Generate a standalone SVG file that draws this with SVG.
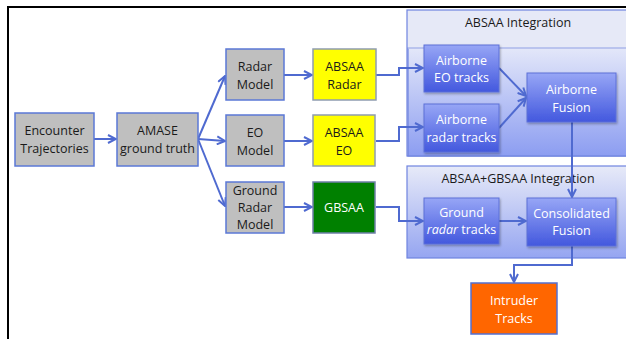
<svg xmlns="http://www.w3.org/2000/svg" width="626" height="339" viewBox="0 0 626 339">
  <style>
    text { font-family: "Open Sans", "Noto Sans", sans-serif; font-size: 12.5px; text-anchor: middle; }
    .dark { fill: #1a1a1a; }
    .light { fill: #ffffff; }
    .gray { fill: #bfbfbf; stroke: #5b78d6; stroke-width: 1.5; }
    .yellow { fill: #ffff00; stroke: #8f9cb0; stroke-width: 1.5; }
    .green { fill: #008000; stroke: #6f7fa8; stroke-width: 1.5; }
    .orange { fill: #ff6600; stroke: #5470d0; stroke-width: 1.5; }
    .blue { fill: url(#boxGrad); stroke: #5c70d8; stroke-width: 1; filter: url(#shadow); }
    .panel { stroke: #6f84e0; stroke-width: 1.2; }
    .conn { fill: none; stroke: #4f6ad0; stroke-width: 2; marker-end: url(#arrow); }
    .conn-plain { fill: none; stroke: #4f6ad0; stroke-width: 2; }
  </style>
  <defs>
    <linearGradient id="boxGrad" x1="0" y1="0" x2="0" y2="1">
      <stop offset="0" stop-color="#97a6f6"/>
      <stop offset="1" stop-color="#4358de"/>
    </linearGradient>
    <linearGradient id="panelGrad" x1="0" y1="0" x2="0" y2="1">
      <stop offset="0" stop-color="#e3e7f9"/>
      <stop offset="1" stop-color="#8c9df1"/>
    </linearGradient>
    <linearGradient id="panelGrad2" x1="0" y1="0" x2="0" y2="1">
      <stop offset="0" stop-color="#e7eaf8"/>
      <stop offset="1" stop-color="#95a5f1"/>
    </linearGradient>
    <filter id="shadow" x="-10%" y="-10%" width="130%" height="140%">
      <feDropShadow dx="1" dy="1.5" stdDeviation="1" flood-color="#000000" flood-opacity="0.3"/>
    </filter>
    <marker id="arrow" viewBox="0 0 10 10" refX="9" refY="5" markerWidth="5" markerHeight="5" orient="auto" markerUnits="strokeWidth">
      <path d="M1,1 L9,5 L1,9" fill="none" stroke="#4f6ad0" stroke-width="2"/>
    </marker>
  </defs>

  <!-- frame -->
  <path d="M8,339 L8,7 L626,7" fill="none" stroke="#000000" stroke-width="2"/>

  <!-- integration panels -->
  <g id="absaa-integration">
    <rect class="panel" x="407" y="10" width="222" height="146" fill="#e6e9f7"/>
    <rect x="408" y="48" width="220" height="108" fill="url(#panelGrad)" stroke="#6f84e0" stroke-width="1.2"/>
    <line x1="408" y1="48" x2="626" y2="48" stroke="#d7dcf2" stroke-width="1"/>
    <text class="dark" x="518" y="27">ABSAA Integration</text>
  </g>
  <g id="absaa-gbsaa-integration">
    <rect class="panel" x="407" y="166" width="222" height="92" fill="url(#panelGrad2)"/>
    <text class="dark" x="518" y="183">ABSAA+GBSAA Integration</text>
  </g>

  <!-- connectors -->
  <g id="connectors">
    <path class="conn" d="M94,139 L116,139"/>
    <path class="conn" d="M198,139 L225,76"/>
    <path class="conn" d="M198,139 L225,141"/>
    <path class="conn" d="M198,139 L225,206"/>
    <path class="conn" d="M284,75 L312,75"/>
    <path class="conn" d="M284,141 L312,141"/>
    <path class="conn" d="M284,207 L312,207"/>
    <path class="conn" d="M376,75 L399,75 L399,68 L423,68"/>
    <path class="conn" d="M376,141 L399,141 L399,127 L423,127"/>
    <path class="conn" d="M376,207 L399,207 L399,221 L423,221"/>
    <path class="conn" d="M499,68 L526,96"/>
    <path class="conn" d="M499,128 L526,98"/>
    <path class="conn" d="M499,221 L526,221"/>
    <path class="conn" d="M572,122 L572,197"/>
    <path class="conn" d="M572,246 L572,265 L514,265 L514,282"/>
  </g>

  <g id="encounter-trajectories">
    <rect class="gray" x="15" y="113" width="79" height="53"/>
    <text class="dark" x="54.5" y="135">Encounter</text>
    <text class="dark" x="54.5" y="153">Trajectories</text>
  </g>
  <g id="amase-ground-truth">
    <rect class="gray" x="117" y="113" width="81" height="53"/>
    <text class="dark" x="157.5" y="135">AMASE</text>
    <text class="dark" x="157.5" y="153">ground truth</text>
  </g>
  <g id="radar-model">
    <rect class="gray" x="226" y="49" width="58" height="51"/>
    <text class="dark" x="255" y="71">Radar</text>
    <text class="dark" x="255" y="89">Model</text>
  </g>
  <g id="eo-model">
    <rect class="gray" x="226" y="115" width="58" height="51"/>
    <text class="dark" x="255" y="137">EO</text>
    <text class="dark" x="255" y="155">Model</text>
  </g>
  <g id="ground-radar-model">
    <rect class="gray" x="226" y="182" width="58" height="51"/>
    <text class="dark" x="255" y="195">Ground</text>
    <text class="dark" x="255" y="212">Radar</text>
    <text class="dark" x="255" y="229">Model</text>
  </g>
  <g id="absaa-radar">
    <rect class="yellow" x="313" y="49" width="63" height="51"/>
    <text class="dark" x="344.5" y="71">ABSAA</text>
    <text class="dark" x="344.5" y="89">Radar</text>
  </g>
  <g id="absaa-eo">
    <rect class="yellow" x="313" y="115" width="62" height="51"/>
    <text class="dark" x="344" y="137">ABSAA</text>
    <text class="dark" x="344" y="155">EO</text>
  </g>
  <g id="gbsaa">
    <rect class="green" x="313" y="182" width="62" height="51"/>
    <text class="light" x="344" y="212">GBSAA</text>
  </g>
  <g id="airborne-eo-tracks">
    <rect class="blue" x="424" y="45" width="75" height="47"/>
    <text class="light" x="461.5" y="65">Airborne</text>
    <text class="light" x="461.5" y="82">EO tracks</text>
  </g>
  <g id="airborne-radar-tracks">
    <rect class="blue" x="424" y="104" width="75" height="48"/>
    <text class="light" x="461.5" y="124">Airborne</text>
    <text class="light" x="461.5" y="142">radar tracks</text>
  </g>
  <g id="airborne-fusion">
    <rect class="blue" x="527" y="73" width="89" height="49"/>
    <text class="light" x="571.5" y="94">Airborne</text>
    <text class="light" x="571.5" y="112">Fusion</text>
  </g>
  <g id="ground-radar-tracks">
    <rect class="blue" x="424" y="198" width="75" height="46"/>
    <text class="light" x="461.5" y="217">Ground</text>
    <text class="light" x="461.5" y="234"><tspan font-style="italic">radar</tspan> tracks</text>
  </g>
  <g id="consolidated-fusion">
    <rect class="blue" x="527" y="198" width="89" height="48"/>
    <text class="light" x="571.5" y="218">Consolidated</text>
    <text class="light" x="571.5" y="235">Fusion</text>
  </g>
  <g id="intruder-tracks">
    <rect class="orange" x="471" y="283" width="86" height="51"/>
    <text class="light" x="514" y="305">Intruder</text>
    <text class="light" x="514" y="323">Tracks</text>
  </g>
</svg>
